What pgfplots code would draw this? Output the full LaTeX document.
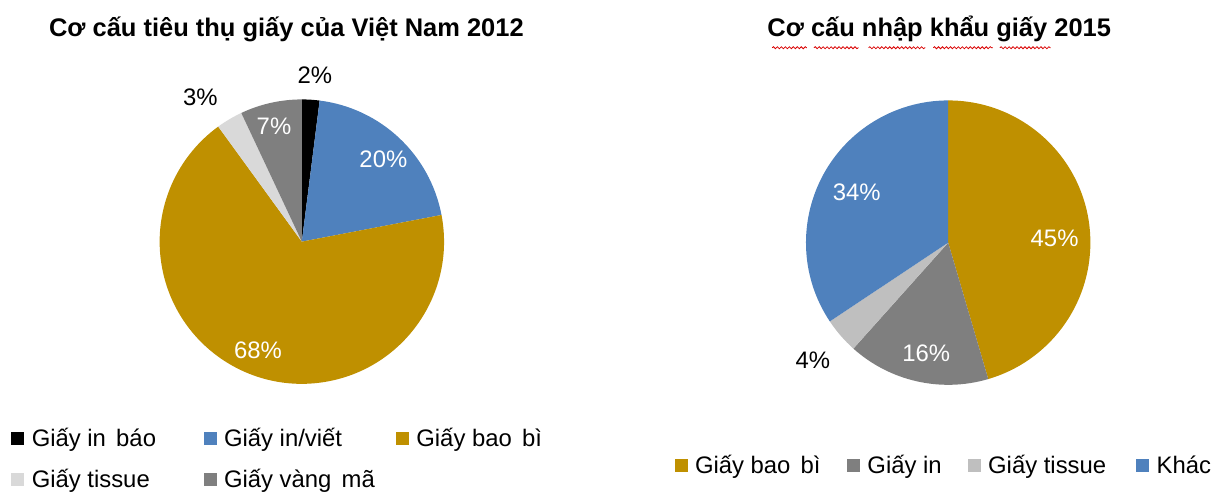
\documentclass[border=0pt]{standalone}
\usepackage{fontspec}
\setmainfont{Liberation Sans}
\usepackage{pgfplots}
\usepackage{pgfplotstable}
\pgfplotsset{compat=1.18}
\usetikzlibrary{decorations.pathmorphing}

\definecolor{L0}{HTML}{000000}
\definecolor{L1}{HTML}{4F81BD}
\definecolor{L2}{HTML}{BF9000}
\definecolor{L3}{HTML}{D9D9D9}
\definecolor{L4}{HTML}{7F7F7F}
\definecolor{R0}{HTML}{BF9000}
\definecolor{R1}{HTML}{7F7F7F}
\definecolor{R2}{HTML}{BFBFBF}
\definecolor{R3}{HTML}{4F81BD}

% Co cau tieu thu giay cua Viet Nam 2012 (%)
\pgfplotstableread{
value
2
20
68
3
7
}\leftdata
% Co cau nhap khau giay 2015 (%)
\pgfplotstableread{
value
45
16
4
34
}\rightdata

% start / end angle of every slice, clockwise from 12 o'clock
\newcommand{\prepie}[2]{%
  \gdef\pietotal{0}%
  \pgfplotstableforeachcolumnelement{value}\of#1\as\v{%
    \pgfmathsetmacro\tmp{\pietotal+\v}\xdef\pietotal{\tmp}}%
  \gdef\cum{0}%
  \pgfplotstableforeachcolumnelement{value}\of#1\as\v{%
    \pgfmathsetmacro\sa{90-(\cum/\pietotal)*360}%
    \pgfmathsetmacro\newcum{\cum+\v}%
    \pgfmathsetmacro\ea{90-(\newcum/\pietotal)*360}%
    \expandafter\xdef\csname #2S\pgfplotstablerow\endcsname{\sa}%
    \expandafter\xdef\csname #2E\pgfplotstablerow\endcsname{\ea}%
    \xdef\cum{\newcum}%
  }%
}

\newcommand{\lfont}{\fontsize{24bp}{28bp}\selectfont}
\newcommand{\tfont}{\bfseries\fontsize{25.6bp}{30bp}\selectfont}

\pgfplotsset{
  piebase/.style={
    anchor=south west, x=1bp, y=1bp, ymin=0, ymax=498,
    hide axis, clip=false,
    legend image code/.code={\fill[##1] (0bp,-6bp) rectangle (12bp,6bp);},
    legend style={draw=none, fill=none, inner sep=0pt, outer sep=0pt,
      font=\lfont, legend cell align=left,
      nodes={inner sep=0pt},
      /tikz/every odd column/.append style={column sep=8bp},
      /tikz/every even column/.append style={column sep=0bp}},
  },
}
\tikzset{wavy/.style={red!85!black, line width=0.8bp, decorate,
    decoration={snake, amplitude=1bp, segment length=4bp}}}

\begin{document}
\prepie\leftdata{left}
\prepie\rightdata{right}
\begin{tikzpicture}
% ---------------- left pie ----------------
\begin{axis}[piebase, at={(0,0)}, xmin=0, xmax=605,
  legend columns=3,
  legend style={at={(axis cs:6,67)}, anchor=north west, row sep=21bp}]
\pgfplotsextra{\path (axis cs:0,0) (axis cs:605,498);}
\pgfplotsinvokeforeach{0,...,4}{%
  \pgfplotsextra{%
    \edef\sa{\csname leftS#1\endcsname}\edef\ea{\csname leftE#1\endcsname}%
    \fill[L#1] (axis cs:298,255) -- ++(\sa:143bp)
      arc[start angle=\sa, end angle=\ea, radius=143bp] -- cycle;
  }%
}
\addlegendimage{L0}\addlegendentry{\makebox[173bp][l]{Giấy in\hspace{0.15em} báo}}
\addlegendimage{L1}\addlegendentry{\makebox[173bp][l]{Giấy in/viết}}
\addlegendimage{L2}\addlegendentry{Giấy bao\hspace{0.15em} bì}
\addlegendimage{L3}\addlegendentry{\makebox[173bp][l]{Giấy tissue}}
\addlegendimage{L4}\addlegendentry{\makebox[173bp][l]{Giấy vàng\hspace{0.15em} mã}}
\node[font=\tfont, anchor=base] at (axis cs:282.5,461) {Cơ cấu tiêu thụ giấy của Việt Nam 2012};
\node[font=\lfont] at (axis cs:311,422) {2\%};
\node[font=\lfont] at (axis cs:196,400) {3\%};
\node[font=\lfont, text=white] at (axis cs:270,371) {7\%};
\node[font=\lfont, text=white] at (axis cs:380,338) {20\%};
\node[font=\lfont, text=white] at (axis cs:254,146) {68\%};
\end{axis}
% ---------------- right pie ----------------
\begin{axis}[piebase, at={(605bp,0)}, xmin=0, xmax=606,
  legend columns=4,
  legend style={at={(axis cs:68,40)}, anchor=north west}]
\pgfplotsextra{\path (axis cs:0,0) (axis cs:606,498);}
\pgfplotsinvokeforeach{0,...,3}{%
  \pgfplotsextra{%
    \edef\sa{\csname rightS#1\endcsname}\edef\ea{\csname rightE#1\endcsname}%
    \fill[R#1] (axis cs:343,254) -- ++(\sa:143bp)
      arc[start angle=\sa, end angle=\ea, radius=143bp] -- cycle;
  }%
}
\addlegendimage{R0}\addlegendentry{\makebox[153bp][l]{Giấy bao\hspace{0.15em} bì}}
\addlegendimage{R1}\addlegendentry{\makebox[101bp][l]{Giấy in}}
\addlegendimage{R2}\addlegendentry{\makebox[149bp][l]{Giấy tissue}}
\addlegendimage{R3}\addlegendentry{Khác}
\node[font=\tfont, anchor=base] at (axis cs:334,461) {Cơ cấu nhập khẩu giấy 2015};
\draw[wavy] (axis cs:166,450) -- (axis cs:201,450);
\draw[wavy] (axis cs:208,450) -- (axis cs:253,450);
\draw[wavy] (axis cs:263,450) -- (axis cs:320,450);
\draw[wavy] (axis cs:328,450) -- (axis cs:388,450);
\draw[wavy] (axis cs:395,450) -- (axis cs:446,450);
\node[font=\lfont, text=white] at (axis cs:450,258) {45\%};
\node[font=\lfont, text=white] at (axis cs:321,143) {16\%};
\node[font=\lfont] at (axis cs:207,136) {4\%};
\node[font=\lfont, text=white] at (axis cs:251,305) {34\%};
\end{axis}
\end{tikzpicture}
\end{document}
